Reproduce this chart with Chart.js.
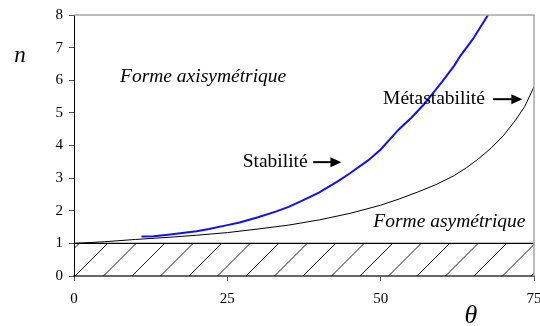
<!DOCTYPE html>
<html>
<head>
<meta charset="utf-8">
<script src="https://cdn.jsdelivr.net/npm/chart.js@4.4.1/dist/chart.umd.min.js"></script>
<style>
  html, body { margin: 0; padding: 0; background: #fff; }
  #wrap { width: 540px; height: 326px; position: relative; }
</style>
</head>
<body>
<div id="wrap"><canvas id="chart"></canvas></div>
<script>
// Données (theta en degrés, n sans dimension)
const xTicks = [0, 25, 50, 75];
const yTicks = [0, 1, 2, 3, 4, 5, 6, 7, 8];

// Courbe noire : métastabilité (forme asymétrique)
const metaTheta = [0, 5, 10, 15, 20, 25, 30, 35, 40, 45, 50, 53, 56, 59, 62, 64, 66, 68, 70, 72, 73.5, 75];
const metaN = [1.00, 1.05, 1.12, 1.18, 1.25, 1.33, 1.44, 1.56, 1.72, 1.92, 2.17, 2.36, 2.57, 2.80, 3.08, 3.32, 3.60, 3.92, 4.30, 4.78, 5.20, 5.80];

// Courbe bleue : stabilité
const stabTheta = [11, 13, 15, 17, 20, 22, 25, 27, 30, 33, 35, 38, 40, 43, 45, 48, 50, 53, 55, 57, 58.5, 60, 62, 63, 65, 67.5];
const stabN = [1.21, 1.22, 1.26, 1.30, 1.37, 1.44, 1.56, 1.64, 1.80, 1.98, 2.12, 2.38, 2.56, 2.90, 3.15, 3.55, 3.88, 4.50, 4.85, 5.25, 5.60, 5.95, 6.45, 6.75, 7.25, 8.00];

// Zone interdite n < 1 (hachurée)
const limitTheta = [0, 75];
const limitN = [1, 1];

const SERIF = '"Liberation Serif", "Times New Roman", serif';

// Motif de hachures "/"
function makeHatch() {
    const size = 57;
    const c = document.createElement('canvas');
    c.width = size;
    c.height = size;
    const g = c.getContext('2d');
    g.strokeStyle = '#000';
    g.lineWidth = 0.9;
    [-19.5, 9, 37.5, 66, 94.5, 123].forEach(k => {
        g.beginPath();
        g.moveTo(k + 20, -20);
        g.lineTo(k - 80, 80);
        g.stroke();
    });
    return g.createPattern(c, 'repeat');
}

function toPoints(xs, ys) {
    return xs.map((x, i) => ({ x: x, y: ys[i] }));
}

// Textes posés en coordonnées (theta, n)
const labels = [
    { text: 'Forme axisymétrique', theta: 7.5, n: 6.1, italic: true },
    { text: 'Forme asymétrique', theta: 48.8, n: 1.66, italic: true },
    { text: 'Stabilité', theta: 27.5, n: 3.49, arrow: [39, 43.6] },
    { text: 'Métastabilité', theta: 50.4, n: 5.42, arrow: [68.3, 73.1] }
];

const annotPlugin = {
    id: 'annot',
    afterDatasetsDraw(chart) {
        const ctx = chart.ctx;
        const xs = chart.scales.x;
        const ys = chart.scales.y;
        const area = chart.chartArea;
        ctx.save();

        // cadre haut et droit
        ctx.strokeStyle = '#a6a6a6';
        ctx.lineWidth = 1.5;
        ctx.beginPath();
        ctx.moveTo(area.left, area.top);
        ctx.lineTo(area.right, area.top);
        ctx.lineTo(area.right, area.bottom);
        ctx.stroke();

        ctx.fillStyle = '#000';
        ctx.strokeStyle = '#000';
        ctx.textBaseline = 'middle';
        ctx.textAlign = 'left';
        labels.forEach(l => {
            ctx.font = (l.italic ? 'italic ' : '') + '19.5px ' + SERIF;
            const px = xs.getPixelForValue(l.theta);
            const py = ys.getPixelForValue(l.n);
            ctx.fillText(l.text, px, py);
            if (l.arrow) {
                const a0 = xs.getPixelForValue(l.arrow[0]);
                const a1 = xs.getPixelForValue(l.arrow[1]);
                ctx.lineWidth = 2;
                ctx.beginPath();
                ctx.moveTo(a0, py);
                ctx.lineTo(a1 - 8, py);
                ctx.stroke();
                ctx.beginPath();
                ctx.moveTo(a1, py);
                ctx.lineTo(a1 - 11, py - 5);
                ctx.lineTo(a1 - 11, py + 5);
                ctx.closePath();
                ctx.fill();
            }
        });

        // titres des axes
        ctx.font = 'italic 23px ' + SERIF;
        ctx.textAlign = 'center';
        ctx.textBaseline = 'alphabetic';
        ctx.fillText('n', 20, 61.5);
        ctx.font = 'italic 26px ' + SERIF;
        ctx.fillText('θ', 471, 323);
        ctx.restore();
    }
};

new Chart(document.getElementById('chart'), {
    type: 'line',
    data: {
        datasets: [
            {
                label: 'Limite',
                data: toPoints(limitTheta, limitN),
                borderColor: '#000',
                borderWidth: 1.2,
                backgroundColor: makeHatch(),
                fill: 'origin',
                pointRadius: 0,
                tension: 0
            },
            {
                label: 'Métastabilité',
                data: toPoints(metaTheta, metaN),
                borderColor: '#000',
                borderWidth: 1,
                pointRadius: 0,
                fill: false,
                tension: 0
            },
            {
                label: 'Stabilité',
                data: toPoints(stabTheta, stabN),
                borderColor: '#1010f0',
                borderWidth: 2,
                pointRadius: 0,
                fill: false,
                tension: 0
            }
        ]
    },
    options: {
        responsive: true,
        maintainAspectRatio: false,
        animation: false,
        layout: { padding: { left: 0, right: 6, top: 15, bottom: 0 } },
        plugins: {
            legend: { display: false },
            tooltip: { enabled: false }
        },
        scales: {
            x: {
                type: 'linear',
                min: 0,
                max: 75,
                afterBuildTicks: s => { s.ticks = xTicks.map(v => ({ value: v })); },
                afterFit: s => { s.height = 50; s.paddingLeft = 0; s.paddingRight = 0; },
                ticks: {
                    color: '#000',
                    padding: 9,
                    maxRotation: 0,
                    font: { family: SERIF, size: 15 }
                },
                grid: { drawOnChartArea: false, tickLength: 5, color: '#555', tickWidth: 1 },
                border: { color: '#666', width: 2 }
            },
            y: {
                min: 0,
                max: 8,
                afterBuildTicks: s => { s.ticks = yTicks.map(v => ({ value: v })); },
                afterFit: s => { s.width = 74; s.paddingTop = 0; s.paddingBottom = 0; },
                ticks: {
                    color: '#000',
                    padding: 6,
                    font: { family: SERIF, size: 15 }
                },
                grid: { drawOnChartArea: false, tickLength: 5, color: '#555', tickWidth: 1 },
                border: { color: '#000', width: 1 }
            }
        }
    },
    plugins: [annotPlugin]
});
</script>
</body>
</html>
